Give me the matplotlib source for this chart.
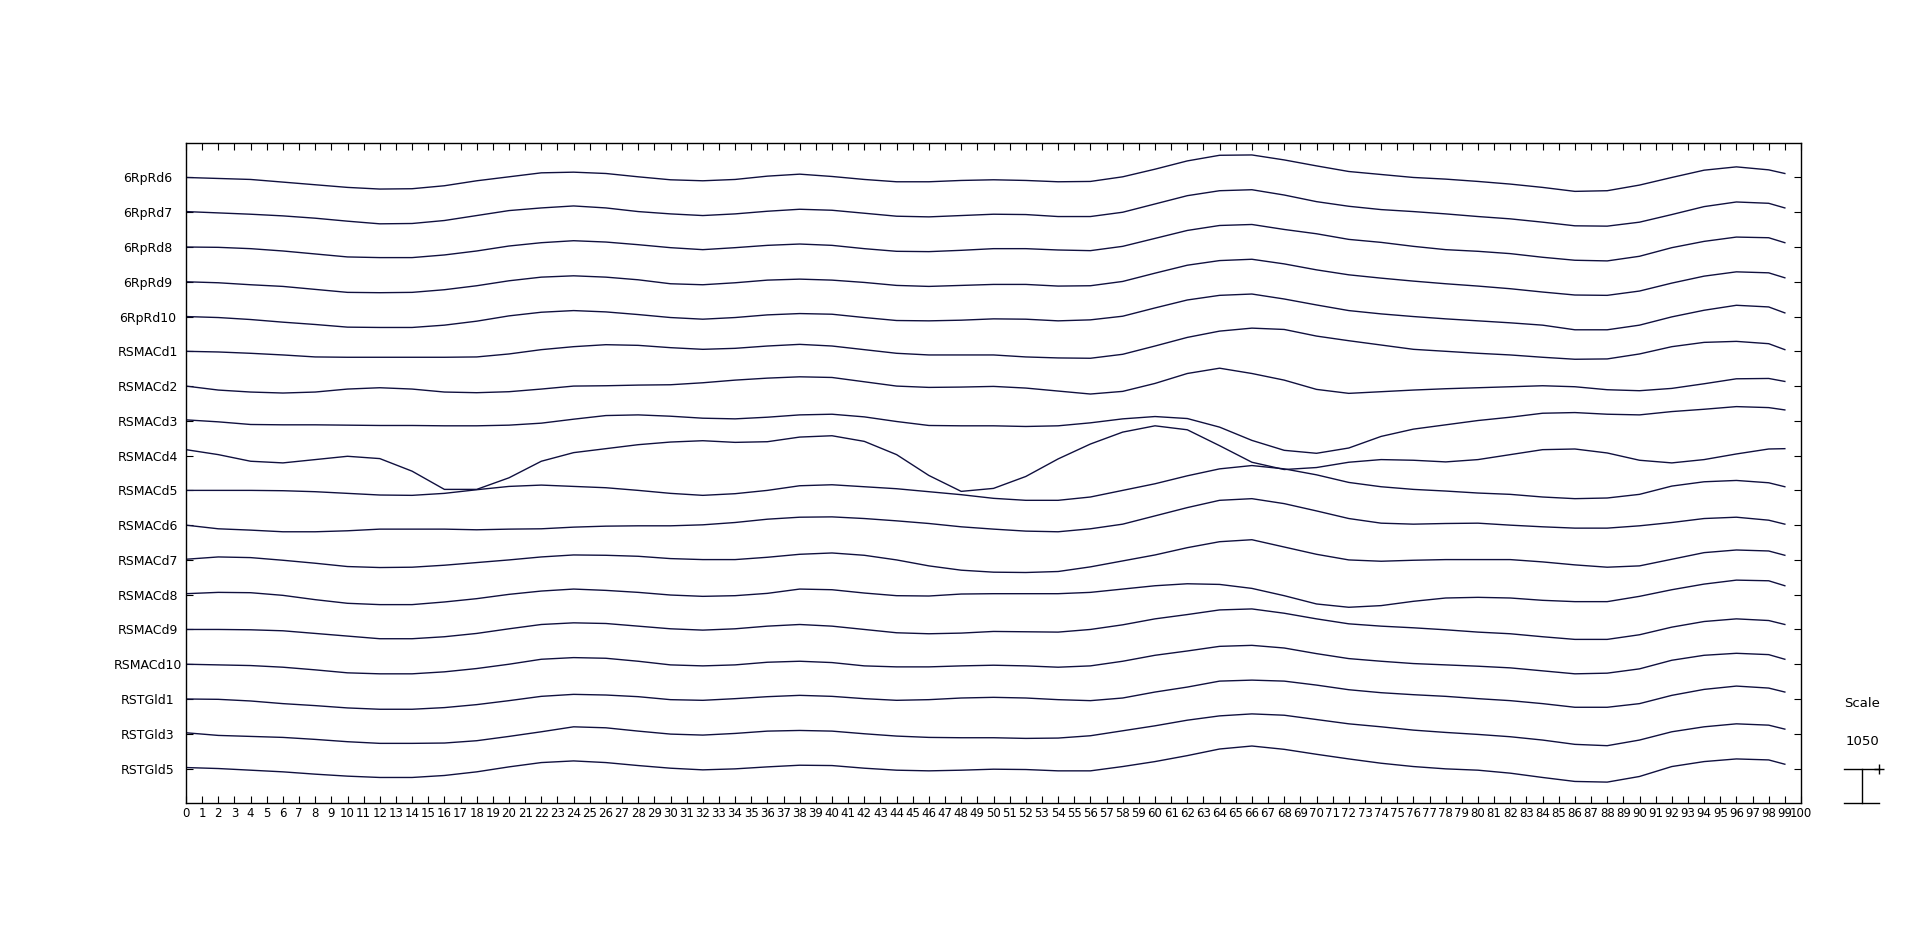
import matplotlib
matplotlib.use('Agg')
import matplotlib.pyplot as plt
import numpy as np

channels = ['6RpRd6', '6RpRd7', '6RpRd8', '6RpRd9', '6RpRd10', 'RSMACd1', 'RSMACd2',
            'RSMACd3', 'RSMACd4', 'RSMACd5', 'RSMACd6', 'RSMACd7', 'RSMACd8', 'RSMACd9',
            'RSMACd10', 'RSTGld1', 'RSTGld3', 'RSTGld5']

t = list(range(0, 100, 2)) + [99]
scale_value = 1050

ch_6RpRd6 = [0, -30, -60, -140, -220, -300, -350, -340, -250, -100, 20, 140, 160,
             120, 20, -70, -100, -60, 40, 100, 30, -60, -130, -130, -90, -70, -90, -130,
             -120, 20, 250, 500, 670, 680, 530, 350, 180, 90, 0, -50, -120, -200, -300,
             -420, -400, -230, 0, 220, 320, 230, 120]
ch_6RpRd7 = [20, -20, -60, -110, -180, -270, -350, -340, -250, -100, 50, 130, 190,
             130, 20, -50, -100, -50, 30, 90, 60, -30, -120, -140, -100, -60, -70, -130,
             -130, 0, 250, 500, 650, 680, 520, 320, 180, 80, 20, -50, -130, -200, -300,
             -410, -420, -300, -70, 170, 310, 270, 130]
ch_6RpRd8 = [0, -10, -50, -120, -210, -300, -320, -320, -240, -120, 30, 130, 190,
             150, 70, -20, -80, -20, 50, 90, 50, -50, -130, -140, -100, -50, -50, -90,
             -110, 20, 260, 500, 650, 680, 530, 400, 230, 140, 20, -80, -130, -200, -310,
             -400, -420, -280, -20, 170, 300, 280, 130]
ch_6RpRd9 = [0, -30, -90, -140, -230, -320, -330, -320, -240, -120, 30, 140, 180,
             140, 60, -60, -90, -30, 50, 80, 50, -20, -110, -140, -110, -80, -80, -130,
             -120, 10, 260, 500, 640, 680, 540, 360, 210, 110, 20, -60, -130, -210, -310,
             -400, -410, -280, -40, 170, 300, 270, 120]
ch_6RpRd10 = [0, -30, -90, -170, -240, -320, -330, -330, -260, -140, 20, 130, 180,
              140, 60, -30, -80, -30, 50, 90, 70, -30, -120, -130, -110, -70, -80, -130,
              -100, 10, 260, 500, 640, 680, 530, 350, 180, 80, 0, -70, -130, -190, -260,
              -400, -400, -260, -10, 190, 340, 290, 110]
ch_RSMACd1 = [0, -20, -60, -110, -170, -180, -180, -180, -180, -170, -80, 50, 140,
              200, 180, 110, 60, 90, 160, 210, 160, 50, -60, -110, -110, -110, -170, -200,
              -210, -90, 160, 420, 610, 700, 660, 460, 320, 190, 60, 0, -60, -110, -180,
              -240, -230, -80, 140, 270, 300, 230, 50]
ch_RSMACd2 = [0, -120, -180, -210, -180, -90, -50, -90, -180, -200, -170, -90, 0,
              10, 30, 40, 100, 180, 240, 280, 260, 130, 0, -40, -30, -10, -60, -150,
              -240, -160, 80, 380, 540, 380, 180, -100, -220, -170, -120, -80, -50, -20, 10,
              -20, -110, -140, -70, 70, 220, 230, 140]
ch_RSMACd3 = [30, -30, -110, -120, -120, -130, -140, -140, -150, -150, -130, -70, 50,
              160, 180, 140, 80, 60, 110, 180, 200, 120, -20, -140, -150, -150, -170, -150,
              -60, 60, 130, 70, -190, -590, -890, -980, -820, -470, -250, -120, 10, 110, 230,
              250, 200, 180, 280, 350, 430, 400, 330]
ch_RSMACd4 = [180, 30, -170, -220, -120, -20, -90, -470, -1020, -1020, -670, -170, 90,
              210, 330, 410, 450, 400, 420, 560, 600, 430, 30, -600, -1080, -990, -630, -100,
              350, 710, 900, 780, 300, -200, -420, -360, -200, -120, -140, -190, -120, 30, 180,
              200, 80, -140, -220, -120, 50, 200, 210]
ch_RSMACd5 = [0, 0, 0, -10, -40, -90, -140, -150, -90, 20, 120, 160, 120,
              80, 0, -90, -150, -100, 0, 140, 170, 110, 50, -40, -130, -240, -300, -300,
              -200, 0, 200, 440, 650, 750, 650, 470, 240, 110, 30, -20, -80, -120, -200,
              -250, -230, -120, 130, 260, 300, 230, 110]
ch_RSMACd6 = [0, -110, -150, -200, -200, -170, -120, -120, -120, -140, -120, -110, -60,
              -30, -20, -20, 10, 80, 180, 240, 250, 200, 130, 50, -50, -120, -180, -200,
              -110, 30, 280, 530, 750, 800, 650, 430, 200, 60, 30, 50, 60, 0, -50,
              -90, -90, -20, 80, 200, 240, 150, 30]
ch_RSMACd7 = [20, 90, 70, -10, -100, -200, -230, -220, -160, -80, 0, 90, 150,
              140, 110, 40, 10, 10, 80, 170, 210, 140, 0, -180, -310, -370, -380, -350,
              -210, -30, 150, 370, 550, 610, 390, 170, 0, -40, -10, 10, 10, 10, -60,
              -150, -220, -180, 20, 220, 300, 270, 140]
ch_RSMACd8 = [30, 70, 60, -20, -150, -260, -300, -300, -220, -120, 10, 110, 170,
              130, 70, -10, -50, -30, 40, 170, 150, 50, -30, -40, 20, 30, 30, 30,
              70, 170, 270, 330, 310, 190, -30, -280, -380, -330, -200, -100, -80, -100, -170,
              -210, -210, -50, 150, 320, 440, 420, 270]
ch_RSMACd9 = [0, 0, -10, -40, -120, -200, -280, -280, -220, -120, 20, 150, 200,
              180, 100, 20, -20, 20, 100, 150, 100, 0, -100, -130, -110, -60, -70, -80,
              0, 140, 320, 450, 590, 620, 490, 320, 170, 100, 50, -10, -80, -130, -220,
              -300, -300, -160, 70, 240, 320, 270, 150]
ch_RSMACd10 = [0, -20, -40, -90, -170, -260, -290, -290, -230, -130, 0, 150, 200,
               180, 90, -20, -50, -20, 60, 90, 50, -50, -80, -80, -50, -30, -50, -90,
               -50, 90, 270, 400, 540, 570, 490, 320, 170, 90, 20, -20, -60, -110, -200,
               -290, -270, -140, 120, 270, 330, 290, 150]
ch_RSTGld1 = [0, -10, -60, -140, -200, -270, -310, -310, -260, -170, -50, 80, 140,
              120, 70, -20, -40, 10, 70, 110, 80, 10, -40, -20, 30, 50, 30, -20,
              -50, 30, 210, 360, 540, 570, 540, 420, 280, 190, 130, 80, 10, -50, -140,
              -250, -250, -140, 110, 290, 390, 330, 210]
ch_RSTGld3 = [30, -50, -80, -110, -170, -240, -290, -290, -280, -210, -80, 60, 210,
              180, 80, -10, -40, 10, 80, 100, 80, 0, -70, -110, -120, -120, -140, -130,
              -60, 90, 240, 410, 540, 600, 560, 430, 300, 210, 110, 40, -20, -90, -190,
              -320, -360, -190, 60, 210, 300, 260, 140]
ch_RSTGld5 = [30, 0, -50, -100, -170, -230, -270, -270, -210, -100, 50, 180, 230,
              180, 90, 10, -40, -10, 50, 100, 90, 10, -50, -70, -50, -20, -30, -70,
              -70, 60, 210, 390, 590, 680, 580, 430, 290, 160, 60, -10, -50, -140, -270,
              -390, -410, -240, 60, 210, 290, 260, 130]

series = [ch_6RpRd6, ch_6RpRd7, ch_6RpRd8, ch_6RpRd9, ch_6RpRd10, ch_RSMACd1, ch_RSMACd2,
          ch_RSMACd3, ch_RSMACd4, ch_RSMACd5, ch_RSMACd6, ch_RSMACd7, ch_RSMACd8, ch_RSMACd9,
          ch_RSMACd10, ch_RSTGld1, ch_RSTGld3, ch_RSTGld5]

W, H = 1920, 946
fig = plt.figure(figsize=(W / 100, H / 100), dpi=100)
ax_l, ax_r, ax_t, ax_b = 186, 1801, 142.7, 803.3
ax = fig.add_axes([ax_l / W, (H - ax_b) / H, (ax_r - ax_l) / W, (ax_b - ax_t) / H])

n = len(channels)
for k, vals in enumerate(series):
    base = n - k
    ax.plot(t, base + np.asarray(vals, dtype=float) / scale_value, color='#10103f', lw=1.0)

ax.set_xlim(0, 100)
ax.set_ylim(0, n + 1)

ax.set_xticks(range(0, 101))
ax.set_xticklabels([str(i) for i in range(0, 101)], fontsize=8.5)
ax.tick_params(axis='x', direction='in', length=5, width=0.8, top=True, bottom=True, pad=3)

ax.set_yticks([n - k for k in range(n)])
ax.set_yticklabels(channels, fontsize=9)
for lb in ax.get_yticklabels():
    lb.set_horizontalalignment('center')
ax.tick_params(axis='y', direction='in', length=5, width=0.8, left=True, right=True, pad=27.4)

for sp in ax.spines.values():
    sp.set_linewidth(1.0)
    sp.set_color('black')

# scale bar (one channel spacing = scale_value)
xs0, xs1, xsm = 102.66, 104.83, 103.78
ax.plot([xs0, xs1], [1, 1], color='black', lw=1.0, clip_on=False)
ax.plot([xs0, xs1], [0, 0], color='black', lw=1.0, clip_on=False)
ax.plot([xsm, xsm], [0, 1], color='black', lw=1.0, clip_on=False)
ax.plot([xs1], [1], marker='+', ms=7, mew=1.0, color='black', clip_on=False)
ax.text(xsm, 2.87, 'Scale', ha='center', va='center', fontsize=9.5)
ax.text(xsm, 1.78, str(scale_value), ha='center', va='center', fontsize=9.5)

fig.savefig('out.png', dpi=100, facecolor='white')
